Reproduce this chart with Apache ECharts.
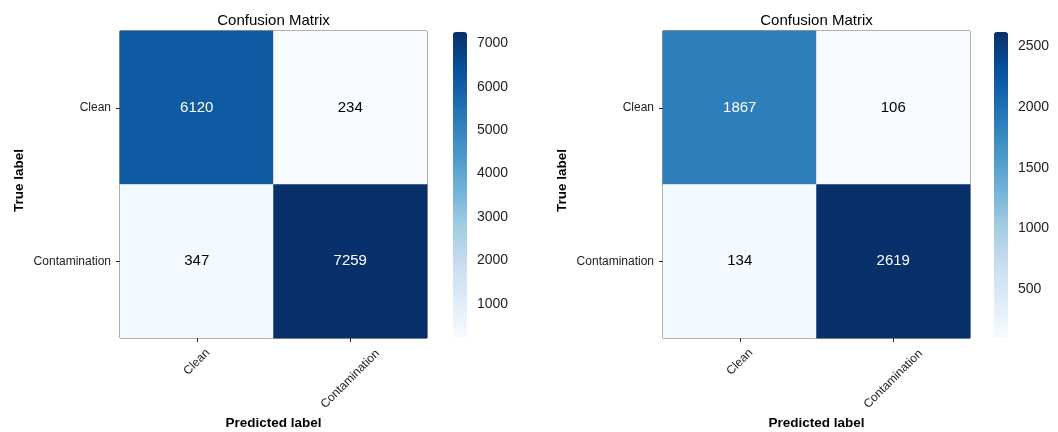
<!DOCTYPE html>
<html>
<head>
<meta charset="utf-8">
<script src="https://cdn.jsdelivr.net/npm/echarts@6/dist/echarts.min.js"></script>
<style>html,body{margin:0;padding:0;background:#fff}#c{width:1058px;height:432px}</style>
</head>
<body>
<div id="c"></div>
<script>
const categories = ['Clean', 'Contamination'];
const titleText = 'Confusion Matrix';
const xName = 'Predicted label';
const yName = 'True label';
// rows = true label, cols = predicted label
const matrixLeft = [[6120, 234], [347, 7259]];
const matrixRight = [[1867, 106], [134, 2619]];
const cbTicksLeft = [1000, 2000, 3000, 4000, 5000, 6000, 7000];
const cbTicksRight = [500, 1000, 1500, 2000, 2500];
const blues = ['#f7fbff', '#deebf7', '#c6dbef', '#9ecae1', '#6baed6', '#4292c6', '#2171b5', '#08519c', '#08306b'];

const FONT = '"Liberation Sans", Arial, Helvetica, sans-serif';

function flat(m) { return m.flat(); }
function buildData(m) {
  const all = flat(m), mx = Math.max(...all);
  const out = [];
  m.forEach((row, i) => row.forEach((v, j) => {
    out.push({ value: [j, i, v], label: { color: v > mx / 2 ? '#ffffff' : '#000000' } });
  }));
  return out;
}

const panels = [
  { m: matrixLeft, ticks: cbTicksLeft, gx: 120, cbx: 453 },
  { m: matrixRight, ticks: cbTicksRight, gx: 663, cbx: 994 }
];
const TOP = 31, SIZE = 307, CBTOP = 32, CBH = 305, CBW = 14;

const grid = [], xAxis = [], yAxis = [], series = [], visualMap = [], title = [];
const xLabelData = [
  { value: categories[0], textStyle: { align: 'center', verticalAlign: 'middle' } },
  { value: categories[1], textStyle: { align: 'center', verticalAlign: 'top', padding: [6, 24, 0, 0] } }
];

panels.forEach((p, k) => {
  const all = flat(p.m);
  const vmin = Math.min(...all), vmax = Math.max(...all);
  grid.push({ left: p.gx, top: TOP, width: SIZE, height: SIZE, show: true, borderColor: '#333', borderWidth: 1,
    backgroundColor: 'transparent', outerBoundsMode: 'none', containLabel: false });
  grid.push({ left: p.cbx, top: CBTOP, width: CBW, height: CBH, show: false, outerBoundsMode: 'none', containLabel: false });
  title.push({ text: titleText, left: p.gx + SIZE / 2, top: 13, textAlign: 'center', padding: 0,
    textStyle: { fontFamily: FONT, fontSize: 15, fontWeight: 'normal', color: '#000' } });
  xAxis.push({
    type: 'category', gridIndex: 2 * k, data: xLabelData, position: 'bottom',
    name: xName, nameLocation: 'middle', nameGap: 78, nameMoveOverlap: false,
    nameTextStyle: { fontFamily: FONT, fontSize: 13.5, fontWeight: 'bold', color: '#000' },
    axisLine: { show: false },
    axisTick: { show: true, alignWithLabel: true, length: 4, lineStyle: { color: '#222' } },
    axisLabel: { interval: 0, rotate: 45, align: 'center', verticalAlign: 'middle', margin: 24, hideOverlap: false,
      fontFamily: FONT, fontSize: 12, color: '#222' },
    splitLine: { show: false }
  });
  yAxis.push({
    type: 'category', gridIndex: 2 * k, data: categories, inverse: true,
    name: yName, nameLocation: 'middle', nameGap: 94, nameMoveOverlap: false,
    nameTextStyle: { fontFamily: FONT, fontSize: 13.5, fontWeight: 'bold', color: '#000', padding: [0, 0, 0, 8] },
    axisLine: { show: false },
    axisTick: { show: true, alignWithLabel: true, length: 4, lineStyle: { color: '#222' } },
    axisLabel: { interval: 0, margin: 9, fontFamily: FONT, fontSize: 12, color: '#222' },
    splitLine: { show: false }
  });
  xAxis.push({ type: 'value', gridIndex: 2 * k + 1, show: false, min: 0, max: 1 });
  yAxis.push({
    type: 'value', gridIndex: 2 * k + 1, position: 'right', min: vmin, max: vmax,
    axisLine: { show: false },
    axisTick: { show: true, length: 4, customValues: p.ticks, lineStyle: { color: '#222' } },
    axisLabel: { show: true, customValues: p.ticks, margin: 10, formatter: v => String(v),
      fontFamily: FONT, fontSize: 14, color: '#222' },
    splitLine: { show: false }
  });
  series.push({
    type: 'heatmap', xAxisIndex: 2 * k, yAxisIndex: 2 * k,
    data: buildData(p.m),
    label: { show: true, fontFamily: FONT, fontSize: 15, formatter: d => String(d.value[2]) },
    itemStyle: { borderWidth: 0 },
    emphasis: { disabled: true }
  });
  visualMap.push({
    type: 'continuous', seriesIndex: k, min: vmin, max: vmax, dimension: 2,
    orient: 'vertical', left: p.cbx, top: CBTOP, itemWidth: CBW, itemHeight: CBH,
    padding: 0, calculable: false, realtime: false, hoverLink: false,
    inRange: { color: blues }, textStyle: { color: 'transparent' }
  });
});

const chart = echarts.init(document.getElementById('c'), null, { renderer: 'canvas' });
chart.setOption({
  animation: false,
  backgroundColor: '#ffffff',
  title, grid, xAxis, yAxis, series, visualMap
});
</script>
</body>
</html>
